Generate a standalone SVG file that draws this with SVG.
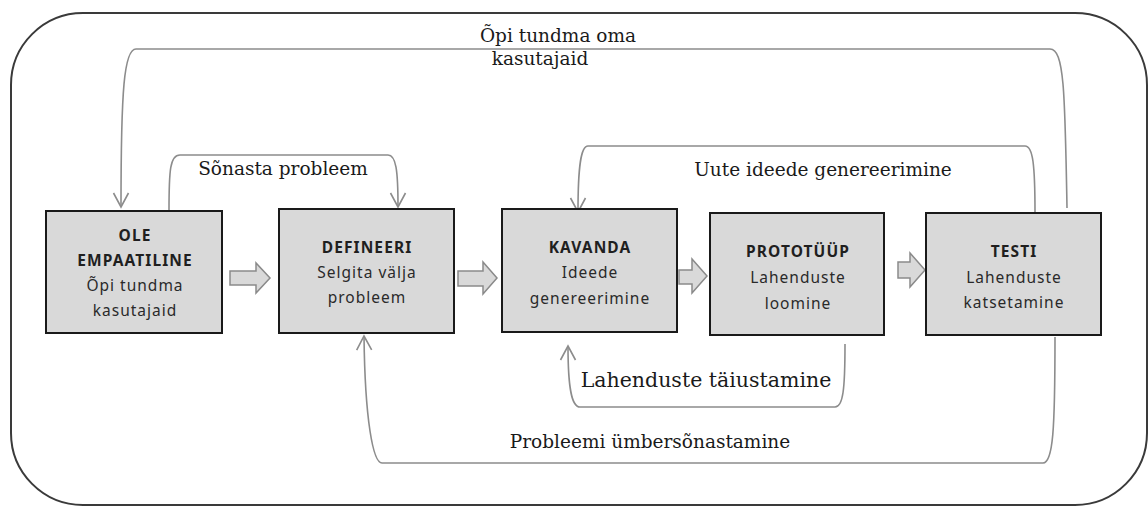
<svg xmlns="http://www.w3.org/2000/svg" width="1148" height="506" viewBox="0 0 1148 506">
<style>
.frame{fill:none;stroke:#3a3a3a;stroke-width:2}
.box{fill:#d9d9d9;stroke:#1a1a1a;stroke-width:2}
.t{font-family:"Noto Sans","Open Sans",sans-serif;font-size:15.5px;text-anchor:middle;letter-spacing:1px}
.b{font-weight:bold;fill:#1f1f1f;letter-spacing:1.1px}
.r{fill:#2a2a2a}
.blk{fill:#d9d9d9;stroke:#8a8a8a;stroke-width:1.5;stroke-linejoin:miter}
.con{fill:none;stroke:#8c8c8c;stroke-width:1.6;marker-end:url(#ah)}
.lbl{font-family:"DejaVu Serif","Liberation Serif",serif;font-size:18.5px;fill:#1a1a1a;text-anchor:middle}
.lbl2{font-size:20.5px}
</style>
<defs>
<marker id="ah" markerUnits="userSpaceOnUse" markerWidth="18" markerHeight="18" viewBox="0 0 18 18" refX="16" refY="9" orient="auto">
<path d="M2,1.5 L16,9 L2,16.5" fill="none" stroke="#8c8c8c" stroke-width="1.6"/>
</marker>
</defs>
<rect class="frame" x="11" y="13" width="1136" height="492" rx="72" ry="72"/>
<g id="connectors">
<path class="con" d="M1067 208 C1065 90 1064 49 1050 49 L136 49 C124 49 121 90 121 207"/>
<path class="con" d="M169 211 C169 170 170 155 180 155 L388 155 C396 155 398 170 398 207"/>
<path class="con" d="M1035 213 C1035 165 1033 146 1025 146 L588 146 C581 146 578 165 578 212"/>
<path class="con" d="M845 344 C845 390 843 407 835 407 L580 407 C572 407 568 390 568 346"/>
<path class="con" d="M1055 337 C1055 430 1053 463 1043 463 L382 463 C373 463 365 420 364 336"/>
<polygon class="blk" points="230,271 256,271 256,263 270,278 256,293 256,285 230,285"/>
<polygon class="blk" points="458,271 483,271 483,262 497,278 483,294 483,286 458,286"/>
<polygon class="blk" points="679,270 692,270 692,259 707,276 692,293 692,284 679,284"/>
<polygon class="blk" points="898,262 910,262 910,253 925,270 910,287 910,278 898,278"/>
</g>
<g id="labels">
<text class="lbl" x="558" y="42">Õpi tundma oma</text>
<text class="lbl" x="540" y="65">kasutajaid</text>
<text class="lbl" x="283" y="175">Sõnasta probleem</text>
<text class="lbl" x="823" y="176">Uute ideede genereerimine</text>
<text class="lbl lbl2" x="706" y="387">Lahenduste täiustamine</text>
<text class="lbl" x="650" y="448">Probleemi ümbersõnastamine</text>
</g>
<g id="node-empathize">
<rect class="box" x="46" y="211" width="176" height="122"/>
<text class="t b" x="135" y="241">OLE</text>
<text class="t b" x="135" y="266">EMPAATILINE</text>
<text class="t r" x="135" y="291">Õpi tundma</text>
<text class="t r" x="135" y="316">kasutajaid</text>
</g>
<g id="node-define">
<rect class="box" x="279" y="209" width="175" height="124"/>
<text class="t b" x="367" y="253">DEFINEERI</text>
<text class="t r" x="367" y="278">Selgita välja</text>
<text class="t r" x="367" y="303">probleem</text>
</g>
<g id="node-ideate">
<rect class="box" x="502" y="209" width="175" height="123"/>
<text class="t b" x="590" y="253">KAVANDA</text>
<text class="t r" x="590" y="278">Ideede</text>
<text class="t r" x="590" y="304">genereerimine</text>
</g>
<g id="node-prototype">
<rect class="box" x="710" y="213" width="174" height="122"/>
<text class="t b" x="798" y="257">PROTOTÜÜP</text>
<text class="t r" x="798" y="283">Lahenduste</text>
<text class="t r" x="798" y="309">loomine</text>
</g>
<g id="node-test">
<rect class="box" x="926" y="213" width="175" height="122"/>
<text class="t b" x="1014" y="257">TESTI</text>
<text class="t r" x="1014" y="283">Lahenduste</text>
<text class="t r" x="1014" y="308">katsetamine</text>
</g>
</svg>
